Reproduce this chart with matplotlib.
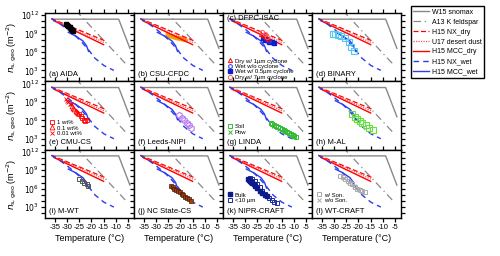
import numpy as np
import matplotlib.pyplot as plt
from matplotlib.ticker import FixedLocator, NullFormatter

plt.rcParams['font.family'] = ['Liberation Sans', 'DejaVu Sans']

# reference parameterisations (temperature in degC, log10 of n_s in m-2)
w15_T = [-36.0, -8.8, -4.2]
w15_log = [11.35, 11.35, 6.6]
a13_T = [-26.5, -5.5]
a13_log = [12.8, 3.9]
nxdry_T = [-36.5, -14.0]
nxdry_log = [11.45, 7.75]
u17_T = [-36.0, -14.5]
u17_log = [11.3, 7.5]
mccdry_T = [-35.5, -15.0]
mccdry_log = [11.1, 7.2]
nxwet_T = [-36.5, -33.0, -29.6, -26.5, -24.2, -21.3, -18.6, -14.9, -10.8]
nxwet_log = [11.45, 10.6, 9.6, 8.6, 7.7, 6.4, 5.0, 3.8, 3.0]
mccwet_T = [-29.5, -26.5, -23.5, -22.0, -21.2]
mccwet_log = [9.2, 8.6, 7.8, 7.0, 6.1]

# instrument data
aida_T = [-30.5, -30.0, -29.5, -29.0, -28.5, -28.0, -27.5]
aida_log = [10.6, 10.4, 10.2, 10.0, 9.8, 9.6, 9.4]

csu_T = [-26.3, -22.0, -17.4]
csu_hi = [9.2, 8.8, 8.4]
csu_lo = [8.5, 8.0, 7.6]

dfpc_dry1_T = [-23.5, -22.5, -21.5, -20.5]
dfpc_dry1_log = [9.0, 8.7, 8.4, 8.1]
dfpc_wet0_T = [-22.5, -21.5, -20.0]
dfpc_wet0_log = [8.6, 8.2, 7.8]
dfpc_wet05_T = [-22.5, -21.8, -21.0, -20.0, -19.0, -18.0]
dfpc_wet05_log = [8.3, 8.0, 7.9, 7.7, 7.6, 7.4]
dfpc_dry7_T = [-23.0, -22.0, -21.0]
dfpc_dry7_log = [9.2, 8.9, 8.5]

binary_T = [-30.5, -29.5, -28.5, -27.0, -25.5, -24.0, -23.0, -22.0]
binary_log = [9.0, 8.9, 8.8, 8.6, 8.3, 7.6, 6.8, 6.2]

cmu1_T = [-25.0, -24.5, -24.0, -23.0, -22.5, -22.0]
cmu1_log = [7.0, 6.7, 6.4, 6.1, 5.9, 6.0]
cmu01_T = [-28.0, -27.5, -27.0, -26.5, -26.0, -25.5]
cmu01_log = [8.3, 8.0, 7.8, 7.6, 7.4, 7.2]
cmu001_T = [-30.5, -30.0, -29.5, -29.0, -28.5]
cmu001_log = [9.4, 9.2, 9.0, 8.7, 8.6]

leeds_T = [-20.5, -19.5, -18.5, -17.5, -16.5, -15.5]
leeds_log = [6.8, 6.4, 6.0, 5.6, 5.2, 4.8]

linda_soil_T = [-19.5, -18.8, -18.0, -17.2, -16.5, -15.8, -15.0, -14.2, -13.5, -12.8, -12.0, -11.2, -10.5, -9.8, -9.0]
linda_soil_log = [5.6, 5.4, 5.3, 5.1, 4.9, 4.8, 4.6, 4.4, 4.3, 4.1, 3.9, 3.8, 3.6, 3.4, 3.3]
linda_pow_T = [-18.0, -16.0, -14.0, -12.0, -10.0]
linda_pow_log = [5.0, 4.6, 4.2, 3.7, 3.3]

mal_T = [-22.5, -21.5, -20.5, -19.5, -18.5, -17.0, -15.5, -14.0]
mal_log = [7.0, 6.6, 6.2, 5.9, 5.6, 5.2, 4.8, 4.5]

mwt_T = [-25.0, -24.0, -23.0, -22.0, -21.5]
mwt_log = [7.6, 7.3, 7.0, 6.7, 6.4]

ncs_T = [-24.0, -23.2, -22.5, -21.8, -21.0, -20.2, -19.5, -18.8, -18.0, -17.2, -16.4, -15.6]
ncs_log = [6.5, 6.3, 6.0, 5.8, 5.6, 5.4, 5.1, 4.9, 4.7, 4.5, 4.3, 4.0]

nipr_bulk_T = [-29.0, -28.5, -28.0, -27.5, -27.0, -26.5, -26.0, -25.0, -24.0, -23.0, -22.0, -21.0]
nipr_bulk_log = [7.6, 7.4, 7.3, 7.1, 6.9, 6.7, 6.5, 6.1, 5.7, 5.3, 5.0, 4.8]
nipr_fine_T = [-28.0, -27.0, -26.0, -25.0, -24.0, -23.0, -22.0, -21.0, -20.0, -19.0, -18.0, -17.0]
nipr_fine_log = [7.8, 7.6, 7.2, 6.8, 6.2, 5.6, 5.2, 4.8, 4.4, 4.1, 3.9, 3.7]

wtc_son_T = [-27.5, -26.5, -25.5, -24.5, -23.5, -22.5, -21.5, -20.5, -19.5, -18.5, -17.5]
wtc_son_log = [8.1, 7.9, 7.6, 7.3, 7.0, 6.7, 6.3, 6.0, 5.8, 5.6, 5.5]
wtc_noson_T = [-26.0, -24.0, -22.0, -20.0]
wtc_noson_log = [7.7, 7.1, 6.5, 5.9]

labels = ['(a) AIDA', '(b) CSU-CFDC', '(c) DFPC-ISAC', '(d) BINARY',
          '(e) CMU-CS', '(f) Leeds-NIPI', '(g) LINDA', '(h) M-AL',
          '(i) M-WT', '(j) NC State-CS', '(k) NIPR-CRAFT', '(l) WT-CRAFT']


def p(v):
    return 10 ** np.array(v)


fig, axes = plt.subplots(3, 4, figsize=(5.0, 2.56), dpi=100)
fig.subplots_adjust(left=0.09, right=0.802, top=0.949, bottom=0.148,
                    wspace=0, hspace=0)

ref_handles = []
for i, ax in enumerate(axes.flat):
    h1, = ax.plot(w15_T, p(w15_log), color='#888888', lw=1.0)
    h2, = ax.plot(a13_T, p(a13_log), color='#888888', lw=0.9, ls=(0, (6, 3, 1, 3)))
    h3, = ax.plot(nxdry_T, p(nxdry_log), color='red', lw=0.9, ls=(0, (4, 2)))
    h4, = ax.plot(u17_T, p(u17_log), color='#ff5050', lw=0.9, ls=(0, (1, 1)))
    h5, = ax.plot(mccdry_T, p(mccdry_log), color='red', lw=1.0)
    h6, = ax.plot(nxwet_T, p(nxwet_log), color='#2b3cf0', lw=1.0, ls=(0, (4, 3)))
    h7, = ax.plot(mccwet_T, p(mccwet_log), color='#2b3cf0', lw=1.0)
    if i == 0:
        ref_handles = [h1, h2, h3, h4, h5, h6, h7]

    ax.set_yscale('log')
    ax.set_xlim(-39.1, -2.5)
    ax.set_ylim(10 ** 1.2, 10 ** 12.35)
    ax.yaxis.set_major_locator(FixedLocator([1e3, 1e6, 1e9, 1e12]))
    ax.yaxis.set_minor_locator(FixedLocator([10.0 ** k for k in range(1, 13)]))
    ax.yaxis.set_minor_formatter(NullFormatter())
    ax.set_xticks([-35, -30, -25, -20, -15, -10, -5])
    ax.tick_params(which='both', direction='out', top=True, right=True,
                   length=3, width=0.9, labelsize=5.5, pad=1.5)
    for s in ax.spines.values():
        s.set_linewidth(1.0)
    r, c = divmod(i, 4)
    if c == 0:
        ax.set_yticklabels(['$10^{3}$', '$10^{6}$', '$10^{9}$', '$10^{12}$'])
        ax.set_ylabel(r'$n_{\rm s,geo}$ (m$^{-2}$)', fontsize=6.5, labelpad=1)
    else:
        ax.set_yticklabels([])
    if r == 2:
        ax.set_xticklabels(['-35', '-30', '-25', '-20', '-15', '-10', '-5'])
        ax.set_xlabel('Temperature (°C)', fontsize=6.5, labelpad=2)
    else:
        ax.set_xticklabels([])
    if i == 2:
        ax.text(0.04, 0.97, labels[i], transform=ax.transAxes, fontsize=5.5,
                va='top', ha='left')
    else:
        ax.text(0.04, 0.05, labels[i], transform=ax.transAxes, fontsize=5.5,
                va='bottom', ha='left')

ax = axes.flat
ms = 3
ax[0].plot(aida_T, p(aida_log), 's', color='black', ms=ms)

ax[1].fill_between(csu_T, p(csu_lo), p(csu_hi), color='#f5a000', lw=0)

a = ax[2]
a.plot(dfpc_wet05_T, p(dfpc_wet05_log), 's', color='#0b1fc8', ms=ms, label='Wet w/ 0.5µm cyclone')
a.plot(dfpc_wet0_T, p(dfpc_wet0_log), 'h', mfc='none', mec='#2b3cf0', ms=ms, mew=0.7, label='Wet w/o cyclone')
a.plot(dfpc_dry1_T, p(dfpc_dry1_log), '^', mfc='none', mec='red', ms=ms, mew=0.7, label='Dry w/ 1µm cyclone')
a.plot(dfpc_dry7_T, p(dfpc_dry7_log), 'o', mfc='none', mec='#ff6060', ms=ms, mew=0.7, label='Dry w/ 7µm cyclone')
hh, ll = a.get_legend_handles_labels()
a.legend([hh[2], hh[1], hh[0], hh[3]], [ll[2], ll[1], ll[0], ll[3]],
         loc='lower left', bbox_to_anchor=(0.0, -0.04), fontsize=4.3, frameon=False,
         handlelength=1.0, handletextpad=0.3, labelspacing=0.05, borderpad=0.2)

ax[3].plot(binary_T, p(binary_log), 's', mfc='none', mec='#55c8f0', ms=ms + 1, mew=0.8)

a = ax[4]
a.plot(cmu1_T, p(cmu1_log), 's', mfc='none', mec='red', ms=ms + 0.5, mew=0.6, label='1 wt%')
a.plot(cmu01_T, p(cmu01_log), '^', mfc='none', mec='red', ms=ms + 0.5, mew=0.6, label='0.1 wt%')
a.plot(cmu001_T, p(cmu001_log), 'x', color='red', ms=ms + 0.5, mew=0.6, label='0.01 wt%')
a.legend(loc='lower left', bbox_to_anchor=(0.0, 0.14), fontsize=4.3, frameon=False,
         handlelength=1.0, handletextpad=0.3, labelspacing=0.05, borderpad=0.2)

ax[5].plot(leeds_T, p(leeds_log), 'h', mfc='none', mec='#b57af0', ms=ms + 1.5, mew=0.8)

a = ax[6]
a.plot(linda_soil_T, p(linda_soil_log), 's', mfc='none', mec='#33bb33', ms=ms + 0.5, mew=0.7, label='Soil')
a.plot(linda_pow_T, p(linda_pow_log), 'x', color='#33bb33', ms=ms, mew=0.7, label='Pow')
a.legend(loc='lower left', bbox_to_anchor=(0.0, 0.16), fontsize=4.3, frameon=False,
         handlelength=1.0, handletextpad=0.3, labelspacing=0.05, borderpad=0.2)

ax[7].plot(mal_T, p(mal_log), 's', mfc='none', mec='#66e040', ms=ms + 1, mew=0.8)

ax[8].plot(mwt_T, p(mwt_log), 's', mfc='none', mec='#555555', ms=ms + 0.5, mew=0.7)

ax[9].plot(ncs_T, p(ncs_log), 's', color='#a04010', mec='#4a1a05', ms=ms + 0.5, mew=0.5)

a = ax[10]
a.plot(nipr_fine_T, p(nipr_fine_log), 's', mfc='none', mec='#1a2a9a', ms=ms + 0.5, mew=0.7, label='<10 µm')
a.plot(nipr_bulk_T, p(nipr_bulk_log), 's', color='#0a1a8a', ms=ms + 0.5, label='Bulk')
hh, ll = a.get_legend_handles_labels()
a.legend([hh[1], hh[0]], [ll[1], ll[0]], loc='lower left', bbox_to_anchor=(0.0, 0.16),
         fontsize=4.3, frameon=False, handlelength=1.0, handletextpad=0.3,
         labelspacing=0.05, borderpad=0.2)

a = ax[11]
a.plot(wtc_son_T, p(wtc_son_log), 's', mfc='none', mec='#aaaaaa', ms=ms + 0.5, mew=0.7, label='w/ Son.')
a.plot(wtc_noson_T, p(wtc_noson_log), 'x', color='#aaaaaa', ms=ms, mew=0.7, label='w/o Son.')
a.legend(loc='lower left', bbox_to_anchor=(0.0, 0.16), fontsize=4.3, frameon=False,
         handlelength=1.0, handletextpad=0.3, labelspacing=0.05, borderpad=0.2)

fig.legend(ref_handles,
           ['W15 snomax', 'A13 K feldspar', 'H15 NX_dry', 'U17 desert dust',
            'H15 MCC_dry', 'H15 NX_wet', 'H15 MCC_wet'],
           loc='upper left', bbox_to_anchor=(0.822, 0.975), fontsize=5.0,
           fancybox=False, edgecolor='black', framealpha=1, handlelength=2.2,
           labelspacing=0.42, borderpad=0.35, handletextpad=0.5,
           borderaxespad=0)

fig.savefig('out.png', dpi=100)
